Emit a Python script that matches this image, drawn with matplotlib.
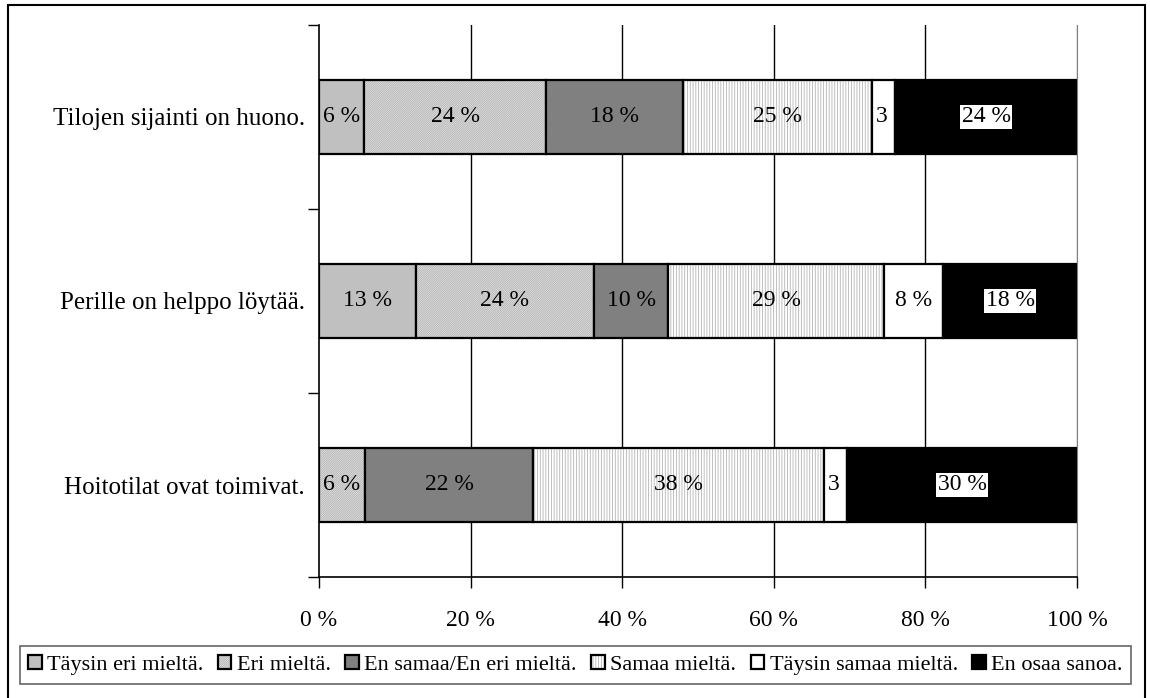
import matplotlib
matplotlib.use("Agg")
import matplotlib.pyplot as plt
from matplotlib.patches import Patch, Rectangle
import numpy as np

plt.rcParams["font.family"] = ["Liberation Serif", "DejaVu Serif"]
plt.rcParams["font.size"] = 17
plt.rcParams["hatch.linewidth"] = 0.6

# Statements, top to bottom
categories = ["Tilojen sijainti on huono.",
              "Perille on helppo löytää.",
              "Hoitotilat ovat toimivat."]

series_names = ["Täysin eri mieltä.", "Eri mieltä.", "En samaa/En eri mieltä.",
                "Samaa mieltä.", "Täysin samaa mieltä.", "En osaa sanoa."]

taysin_eri = [6, 13, 0]
eri = [24, 24, 6]
en_samaa = [18, 10, 22]
samaa = [25, 29, 38]
taysin_samaa = [3, 8, 3]
en_osaa = [24, 18, 30]

x_ticks = [0, 20, 40, 60, 80, 100]
x_tick_labels = ["0 %", "20 %", "40 %", "60 %", "80 %", "100 %"]

# Fill styles per answer option: (face, hatch, hatch colour, label box)
styles = [
    ("#C0C0C0", None, None, False),
    ("white", "/" * 18, "#ABABAB", False),
    ("#808080", None, None, False),
    ("white", "||||||", "#B4B4B4", False),
    ("white", None, None, False),
    ("black", None, None, True),
]

values = np.array([taysin_eri, eri, en_samaa, samaa, taysin_samaa, en_osaa], dtype=float)
shares = values / values.sum(axis=0) * 100  # 100 % stacked

W, H = 1150, 698
fig = plt.figure(figsize=(W / 100, H / 100), dpi=100)
ax = fig.add_axes([319 / W, 1 - 577 / H, 758 / W, 552 / H])

ypos = np.arange(len(categories))[::-1]
bar_h = 0.40
left = np.zeros(len(categories))

for i, (face, hatch, hcol, boxed) in enumerate(styles):
    width = shares[i]
    z = 2 + i * 0.01
    if hatch:
        ax.barh(ypos, width, left=left, height=bar_h, color="white",
                edgecolor=hcol, hatch=hatch, linewidth=0, zorder=z)
        rects = ax.barh(ypos, width, left=left, height=bar_h, facecolor="none",
                        edgecolor="black", linewidth=1.6, zorder=z + 0.001)
    else:
        rects = ax.barh(ypos, width, left=left, height=bar_h, color=face,
                        edgecolor="black", linewidth=1.6, zorder=z)
    for j, rect in enumerate(rects):
        v = values[i, j]
        if v <= 0:
            continue
        txt = f"{int(v)} %"
        yc = ypos[j]
        if v < 5:
            t = ax.text(left[j] + 0.5, yc, txt, ha="left", va="center",
                        color="black", zorder=5)
            t.set_clip_path(rect)
        else:
            kw = {}
            if boxed:
                kw["bbox"] = dict(facecolor="white", edgecolor="none", pad=1.2)
            ax.text(left[j] + width[j] / 2, yc, txt, ha="center", va="center",
                    color="black", zorder=5, **kw)
    left = left + width

ax.set_xlim(0, 100)
ax.set_ylim(-0.5, len(categories) - 0.5)

ax.set_xticks(x_ticks, labels=x_tick_labels)
ax.tick_params(axis="x", direction="out", length=8, width=1, pad=16, colors="black")
ax.set_yticks(ypos, labels=categories, fontsize=18)
ax.tick_params(axis="y", which="major", length=0, pad=10)
ax.set_yticks(np.arange(-0.5, len(categories), 1.0), minor=True)
ax.tick_params(axis="y", which="minor", direction="out", length=8, width=1)

ax.grid(axis="x", color="black", linewidth=1)
ax.set_axisbelow(True)
grid = ax.get_xgridlines()
grid[0].set_visible(False)
grid[-1].set_color("#808080")

ax.spines["top"].set_visible(False)
ax.spines["right"].set_color("#808080")
ax.spines["left"].set_linewidth(1.2)
ax.spines["bottom"].set_linewidth(1.2)

# Legend with hatched swatches framed in black
handles = []
for face, hatch, hcol, boxed in styles:
    if hatch:
        fill = Patch(facecolor="white", edgecolor=hcol, hatch=hatch, linewidth=0)
        frame = Patch(facecolor="none", edgecolor="black", linewidth=1.6)
        handles.append((fill, frame))
    else:
        handles.append(Patch(facecolor=face, edgecolor="black", linewidth=1.6))

leg = fig.legend(handles, series_names, ncol=6, loc="center",
                 bbox_to_anchor=((17 + 1134) / 2 / W, 1 - 665 / H),
                 frameon=True, fancybox=False, borderaxespad=0,
                 handlelength=0.6, handleheight=0.6, handletextpad=0.25,
                 columnspacing=0.65, borderpad=0.4, prop={"size": 16})
leg.get_frame().set_edgecolor("#404040")
leg.get_frame().set_linewidth(1.2)

# Outer frame of the chart
fig.patches.append(Rectangle((8 / W, -0.02), (1145 - 8) / W, 1 - 5 / H + 0.02,
                             transform=fig.transFigure, fill=False,
                             edgecolor="black", linewidth=1.5))

fig.savefig("out.png", dpi=100, facecolor="white")
